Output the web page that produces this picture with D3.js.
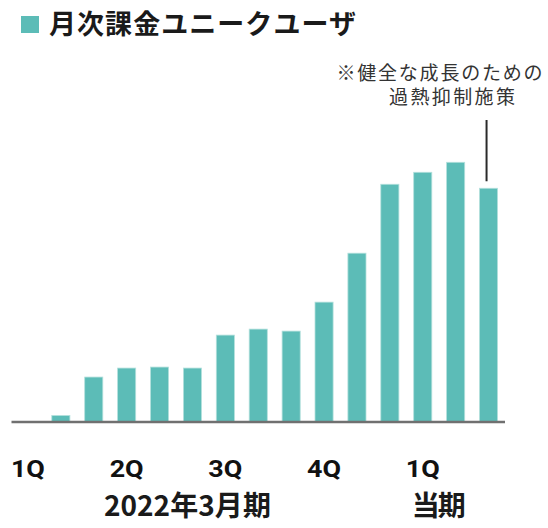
<!DOCTYPE html>
<html>
<head>
<meta charset="utf-8">
<script src="https://cdn.jsdelivr.net/npm/d3@7/dist/d3.min.js"></script>
<style>
  html, body { margin: 0; padding: 0; background: #fff; }
  svg { display: block; font-family: "Noto Sans CJK JP", "Noto Sans", sans-serif; }
</style>
</head>
<body>
<svg id="chart" width="548" height="528"></svg>
<script>
// Monthly paying unique users, 15 months (first month has no value yet)
const months = d3.range(15);
const payingUsers = [0, 6.5, 45, 54, 55, 54, 87, 93, 91, 120, 169, 238, 250, 260, 234];
const quarterLabels = ["1Q", "2Q", "3Q", "4Q", "1Q"];
const quarterStartIndex = [0, 3, 6, 9, 12];
const periodLabels = ["2022年3月期", "当期"];
const titleText = "月次課金ユニークユーザ";
const noteLines = ["※健全な成長のための", "過熱抑制施策"];
const noteMonth = 14;

const barColor = "#5cbcb7";
const svg = d3.select("#chart");

const x = d3.scaleBand()
  .domain(months)
  .range([11.5, 505])
  .paddingInner(0.45)
  .paddingOuter(0.225);

const y = d3.scaleLinear()
  .domain([0, 260])
  .range([422, 162.3]);

// Title with colour key square
svg.append("rect")
  .attr("x", 21).attr("y", 16)
  .attr("width", 18).attr("height", 17)
  .attr("fill", barColor);

svg.append("text")
  .attr("x", 49).attr("y", 34)
  .attr("font-size", 27)
  .attr("font-weight", 700)
  .attr("fill", "#1a1a1a")
  .attr("textLength", 307)
  .attr("lengthAdjust", "spacing")
  .text(titleText);

// Bars
svg.append("g")
  .selectAll("rect")
  .data(payingUsers)
  .join("rect")
  .attr("x", (d, i) => x(i))
  .attr("y", d => y(d))
  .attr("width", x.bandwidth())
  .attr("height", d => y(0) - y(d))
  .attr("fill", barColor)
  .attr("stroke", "#b3e0dc")
  .attr("stroke-width", 0.8)
  .attr("display", d => d > 0 ? null : "none");

// Baseline
svg.append("line")
  .attr("x1", x.range()[0]).attr("x2", x.range()[1])
  .attr("y1", y(0)).attr("y2", y(0))
  .attr("stroke", "#707070")
  .attr("stroke-width", 2.6);

// Quarter labels under the first month of each quarter
svg.append("g")
  .selectAll("text")
  .data(quarterLabels)
  .join("text")
  .attr("x", (d, i) => x(quarterStartIndex[i]) + x.bandwidth() / 2)
  .attr("y", 477)
  .attr("text-anchor", "middle")
  .attr("font-family", "Roboto, sans-serif")
  .attr("font-size", 24)
  .attr("font-weight", 700)
  .attr("fill", "#111")
  .attr("textLength", 34)
  .attr("lengthAdjust", "spacingAndGlyphs")
  .text(d => d);

// Fiscal period labels
const periodX = [x(5) + 4, x(12) + x.bandwidth() + 7];
const periodW = [167, 54];
svg.append("g")
  .selectAll("text")
  .data(periodLabels)
  .join("text")
  .attr("x", (d, i) => periodX[i])
  .attr("y", 516)
  .attr("text-anchor", "middle")
  .attr("font-size", 28)
  .attr("font-weight", 700)
  .attr("fill", "#1a1a1a")
  .attr("textLength", (d, i) => periodW[i])
  .attr("lengthAdjust", "spacing")
  .text(d => d);

// Note about the latest month
const noteX = x(noteMonth) + x.bandwidth() / 2 - 2;
svg.append("line")
  .attr("x1", noteX).attr("x2", noteX)
  .attr("y1", 120).attr("y2", y(payingUsers[noteMonth]) - 7)
  .attr("stroke", "#2a2a2a")
  .attr("stroke-width", 2);

svg.append("text")
  .attr("x", 336.5).attr("y", 80)
  .attr("font-size", 19)
  .attr("fill", "#333")
  .attr("textLength", 206)
  .attr("lengthAdjust", "spacing")
  .text(noteLines[0]);

svg.append("text")
  .attr("x", 389).attr("y", 104)
  .attr("font-size", 19)
  .attr("fill", "#333")
  .attr("textLength", 126)
  .attr("lengthAdjust", "spacing")
  .text(noteLines[1]);
</script>
</body>
</html>
